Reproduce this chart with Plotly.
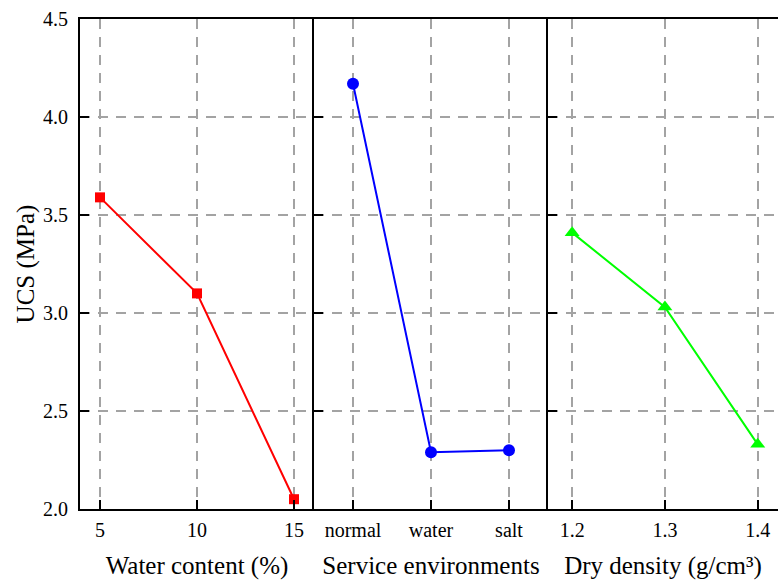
import plotly.graph_objects as go

water_content = [5, 10, 15]
ucs_water = [3.59, 3.10, 2.05]

environments = ["normal", "water", "salt"]
ucs_env = [4.17, 2.29, 2.30]

dry_density = [1.2, 1.3, 1.4]
ucs_density = [3.41, 3.03, 2.33]

y_ticks = [2.0, 2.5, 3.0, 3.5, 4.0, 4.5]

FONT = "'Liberation Serif', 'Times New Roman', 'DejaVu Serif', serif"
GRID = "#a3a3a3"

fig = go.Figure()
fig.add_trace(go.Scatter(x=water_content, y=ucs_water, mode="lines+markers",
                         line=dict(color="#ff0000", width=2),
                         marker=dict(symbol="square", size=10, color="#ff0000"),
                         xaxis="x", yaxis="y", showlegend=False))
fig.add_trace(go.Scatter(x=environments, y=ucs_env, mode="lines+markers",
                         line=dict(color="#0000ff", width=2),
                         marker=dict(symbol="circle", size=12, color="#0000ff"),
                         xaxis="x2", yaxis="y2", showlegend=False))
fig.add_trace(go.Scatter(x=dry_density, y=ucs_density, mode="lines+markers",
                         line=dict(color="#00ff00", width=2),
                         marker=dict(symbol="triangle-up", size=13, color="#00ff00"),
                         xaxis="x3", yaxis="y3", showlegend=False))

W = 698.0
d1 = 234 / W
d2 = 468 / W

common_x = dict(showline=True, linecolor="black", linewidth=2, mirror=True,
                ticks="inside", ticklen=9, tickwidth=2, tickcolor="black",
                showgrid=True, gridcolor=GRID, gridwidth=2, griddash="10px,8px",
                zeroline=False, tickfont=dict(family=FONT, size=20, color="black"),
                ticklabelstandoff=2,
                title_font=dict(family=FONT, size=25, color="black"),
                title_standoff=16)
common_y = dict(showline=True, linecolor="black", linewidth=2, mirror=False,
                ticks="inside", ticklen=9, tickwidth=2, tickcolor="black",
                showgrid=True, gridcolor=GRID, gridwidth=2, griddash="10px,8px",
                zeroline=False, range=[2.0, 4.5], tickvals=y_ticks,
                tickformat=".1f", ticklabelstandoff=6,
                tickfont=dict(family=FONT, size=20, color="black"))

fig.update_layout(
    width=778, height=581,
    margin=dict(l=80, r=0, t=19, b=72),
    paper_bgcolor="white", plot_bgcolor="white",
    font=dict(family=FONT, color="black"),
    xaxis=dict(domain=[0, d1], range=[3.97, 16.03], tickvals=water_content,
               title_text="Water content (%)", anchor="y", **common_x),
    xaxis2=dict(domain=[d1, d2], range=[-0.5, 2.5], type="category",
                title_text="Service environments", anchor="y2", **common_x),
    xaxis3=dict(domain=[d2, 1], range=[1.174, 1.174 + 230 / 928.0],
                tickvals=dry_density, tickformat=".1f",
                title_text="Dry density (g/cm³)", anchor="y3", **common_x),
    yaxis=dict(anchor="x", title_text="UCS (MPa)",
               title_font=dict(family=FONT, size=25, color="black"),
               title_standoff=1, **common_y),
    yaxis2=dict(anchor="x2", matches="y", showticklabels=False, **common_y),
    yaxis3=dict(anchor="x3", matches="y", showticklabels=False, **common_y),
)

fig.write_html("out.html")
